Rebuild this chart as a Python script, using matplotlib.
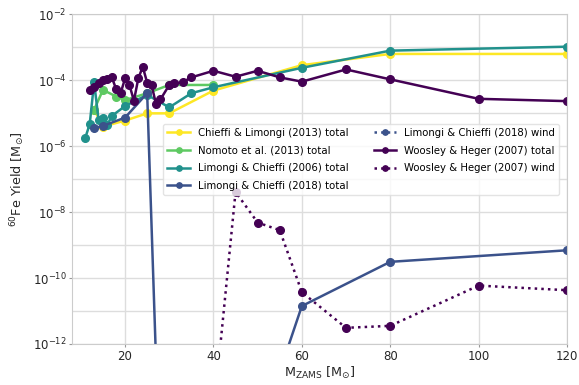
import numpy as np
import matplotlib.pyplot as plt
from matplotlib.ticker import NullFormatter

# viridis colours for the five model sets
c_wh = '#440154'
c_lc18 = '#3b528b'
c_lc06 = '#21918c'
c_nom = '#5ec962'
c_cl13 = '#fde725'

# Chieffi & Limongi (2013)
m_cl13 = [13, 15, 20, 25, 30, 40, 60, 80, 120]
y_cl13 = [10**-4.9, 10**-5.41, 10**-5.23, 10**-5.01, 10**-5.01, 10**-4.32, 10**-3.55, 10**-3.21, 10**-3.21]

# Nomoto et al. (2013)
m_nom = [13, 15, 18, 20, 25, 30, 40]
y_nom = [10**-4.9, 10**-4.30, 10**-4.5, 10**-4.61, 10**-4.4, 10**-4.15, 10**-4.15]

# Limongi & Chieffi (2006)
m_lc06 = [11, 12, 13, 14, 15, 16, 17, 20, 25, 30, 35, 40, 60, 80, 120]
y_lc06 = [10**-5.75, 10**-5.34, 10**-4.07, 10**-5.2, 10**-5.16, 10**-5.36, 10**-5.09, 10**-4.79,
          10**-4.45, 10**-4.83, 10**-4.40, 10**-4.22, 10**-3.63, 10**-3.11, 10**-2.99]

# Limongi & Chieffi (2018)
m_lc18 = [13, 15, 20, 25, 30, 40, 60, 80, 120]
y_lc18 = [10**-5.46, 10**-5.39, 10**-5.14, 10**-4.40, 10**-24.6, 10**-18.8, 10**-10.85, 10**-9.51, 10**-9.16]
y_lc18_wind = [1e-16, 1e-16, 1e-16, 1e-16, 1e-16, 1e-16, 1e-16, 1e-16, 1e-16]

# Woosley & Heger (2007)
m_wh = [12, 13, 14, 15, 16, 17, 18, 19, 20, 21, 22, 23, 24, 25, 26, 27, 28,
        30, 31, 33, 35, 40, 45, 50, 55, 60, 70, 80, 100, 120]
y_wh = [10**-4.30, 10**-4.22, 10**-4.10, 10**-4.00, 10**-3.96, 10**-3.92, 10**-4.28, 10**-4.40,
        10**-3.95, 10**-4.15, 10**-4.63, 10**-3.95, 10**-3.60, 10**-4.08, 10**-4.15, 10**-4.73,
        10**-4.59, 10**-4.15, 10**-4.10, 10**-4.07, 10**-3.92, 10**-3.72, 10**-3.90, 10**-3.72,
        10**-3.92, 10**-4.05, 10**-3.68, 10**-3.98, 10**-4.57, 10**-4.64]
m_wh_wind = [30, 35, 40, 45, 50, 55, 60, 70, 80, 100, 120]
y_wh_wind = [1e-16, 1e-16, 10**-14.15, 10**-7.39, 10**-8.32, 10**-8.55, 10**-10.43,
             10**-11.51, 10**-11.45, 10**-10.23, 10**-10.37]

plt.rcParams['font.family'] = 'DejaVu Sans'
fig = plt.figure(figsize=(5.79, 3.85), dpi=100)
ax = fig.add_axes([0.1244, 0.1065, 0.8549, 0.8571])

kw = dict(lw=1.8, ms=5.5, marker='o')
ax.plot(m_cl13, y_cl13, color=c_cl13, label='Chieffi & Limongi (2013) total', **kw)
ax.plot(m_nom, y_nom, color=c_nom, label='Nomoto et al. (2013) total', **kw)
ax.plot(m_lc06, y_lc06, color=c_lc06, label='Limongi & Chieffi (2006) total', **kw)
ax.plot(m_lc18, y_lc18, color=c_lc18, label='Limongi & Chieffi (2018) total', **kw)
ax.plot(m_lc18, y_lc18_wind, color=c_lc18, ls=':', label='Limongi & Chieffi (2018) wind', **kw)
ax.plot(m_wh, y_wh, color=c_wh, label='Woosley & Heger (2007) total', **kw)
ax.plot(m_wh_wind, y_wh_wind, color=c_wh, ls=':', label='Woosley & Heger (2007) wind', **kw)

ax.set_yscale('log')
ax.set_xlim(8, 120)
ax.set_ylim(1e-12, 1e-2)
ax.set_xticks([20, 40, 60, 80, 100, 120])
ax.set_yticks([10.0**k for k in range(-12, -1, 2)])
ax.set_yticks([10.0**k for k in range(-11, -2, 2)], minor=True)
ax.yaxis.set_minor_formatter(NullFormatter())
ax.grid(True, which='both', color='#dddddd', lw=1)
ax.set_axisbelow(True)
for s in ax.spines.values():
    s.set_color('#cccccc')
ax.tick_params(which='major', length=2, color='#999999', labelsize=8.5, labelcolor='#262626', pad=2)
ax.tick_params(which='minor', length=0)

ax.set_xlabel(r'M$_{\mathrm{ZAMS}}$ [M$_{\odot}$]', fontsize=9.2, color='#262626', labelpad=2)
ax.set_ylabel(r'$^{60}$Fe Yield [M$_{\odot}$]', fontsize=9.2, color='#262626', labelpad=4)

ax.legend(ncol=2, loc='upper right', bbox_to_anchor=(0.984, 0.667), borderaxespad=0,
          fontsize=7.3, framealpha=0.8, edgecolor='#dddddd', markerscale=0.7,
          handlelength=2.2, columnspacing=2.5, labelspacing=0.75)

plt.savefig('out.png', dpi=100)
plt.close()
